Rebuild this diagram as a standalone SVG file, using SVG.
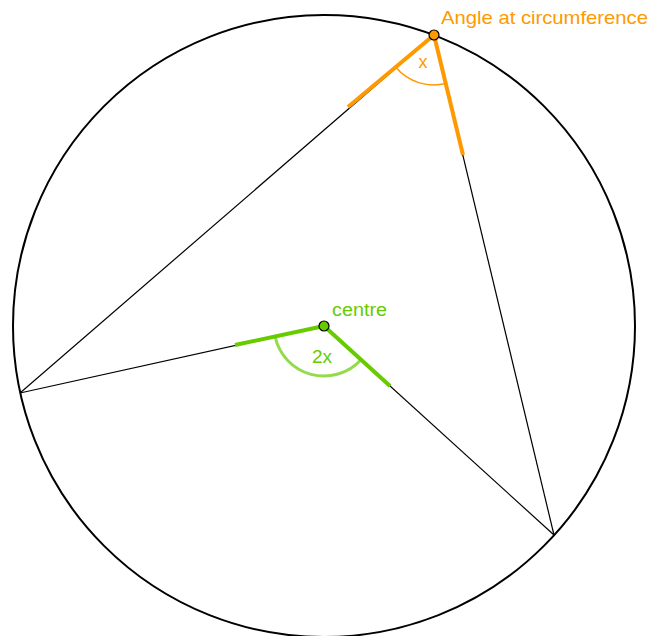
<svg xmlns="http://www.w3.org/2000/svg" width="650" height="636" viewBox="0 0 650 636">
<style>
.thin{stroke:#000;stroke-width:1.2;fill:none}
.orange{stroke:#FF9900;stroke-width:4;fill:none}
.green{stroke:#66CC00;stroke-width:4;fill:none}
.lbl{font-family:"Liberation Sans",Arial,sans-serif;font-size:18px}
</style>
<rect width="650" height="636" fill="#fff"/>
<g id="circle"><circle cx="324" cy="326" r="311" fill="none" stroke="#000" stroke-width="2"/></g>
<g id="connectors">
<line class="thin" x1="434" y1="35" x2="20" y2="393"/>
<line class="thin" x1="434" y1="35" x2="554" y2="535"/>
<line class="thin" x1="324" y1="326" x2="20" y2="393"/>
<line class="thin" x1="324" y1="326" x2="554" y2="535"/>
<line class="orange" x1="434" y1="35" x2="348" y2="107"/>
<line class="orange" x1="434" y1="35" x2="463" y2="155"/>
<line class="green" x1="324" y1="326" x2="235" y2="345"/>
<line class="green" x1="324" y1="326" x2="390" y2="386"/>
<path d="M396.2,67.7 A50,50 0 0 0 445.7,83.6" stroke="#FF9900" stroke-width="1.5" fill="none"/>
<path d="M275.1,336.5 A50,50 0 0 0 361.0,359.7" stroke="#66CC00" stroke-opacity="0.7" stroke-width="3" fill="none"/>
</g>
<g id="angle-circumference">
<circle cx="434" cy="35" r="5" fill="#FF9900" stroke="#000" stroke-width="1.2"/>
<text class="lbl" x="441" y="24" fill="#FF9900" style="font-size:19px" textLength="207" lengthAdjust="spacingAndGlyphs">Angle at circumference</text>
<text class="lbl" x="423" y="68" fill="#FF9900" text-anchor="middle">x</text>
</g>
<g id="centre">
<circle cx="324" cy="326" r="5" fill="#66CC00" stroke="#000" stroke-width="1.2"/>
<text class="lbl" x="332" y="316" fill="#66CC00" textLength="55" lengthAdjust="spacingAndGlyphs">centre</text>
<text class="lbl" x="322" y="363" fill="#66CC00" style="font-size:19px" text-anchor="middle">2x</text>
</g>
</svg>
